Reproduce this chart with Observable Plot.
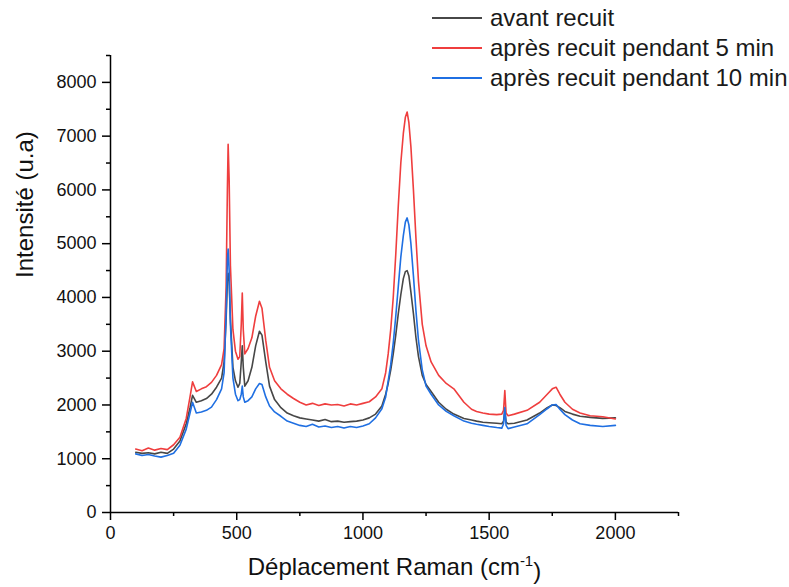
<!DOCTYPE html>
<html>
<head>
<meta charset="utf-8">
<script src="https://cdn.jsdelivr.net/npm/d3@7"></script>
<script src="https://cdn.jsdelivr.net/npm/@observablehq/plot@0.6"></script>
<style>
  html, body { margin: 0; padding: 0; background: #fff; }
  #wrap { position: relative; width: 789px; height: 587px; font-family: "Liberation Sans", Arial, sans-serif; }
  #legend { position: absolute; left: 432px; top: 3px; }
  .row { display: flex; align-items: center; height: 30px; }
  .sw { width: 50px; height: 2px; margin-right: 8px; }
  .lab { font-size: 24px; color: #1a1a1a; line-height: 30px; white-space: nowrap; }
</style>
</head>
<body>
<div id="wrap"><div id="chart"></div><div id="legend"></div></div>
<script>
const seriesNames = ["avant recuit", "après recuit pendant 5 min", "après recuit pendant 10 min"];
const seriesColors = ["#474747", "#ef3e3e", "#1f6fe2"];

const ramanShift = [100,125,150,175,200,225,250,275,300,315,325,340,360,380,400,420,440,450,458,463,466,470,475,485,495,505,512,518,522,526,532,545,560,575,590,600,615,630,650,675,700,725,750,775,800,825,850,875,900,925,950,975,1000,1025,1050,1075,1090,1100,1110,1120,1130,1140,1150,1160,1168,1175,1182,1190,1200,1210,1220,1235,1250,1270,1300,1330,1360,1400,1430,1450,1475,1500,1530,1550,1557,1562,1567,1575,1600,1650,1700,1730,1750,1765,1780,1800,1830,1860,1900,1950,2000];

const avantRecuit = [1120,1100,1110,1090,1120,1100,1180,1330,1650,1950,2180,2050,2080,2120,2200,2330,2500,2800,3600,4300,4450,4300,3600,2700,2450,2330,2400,2800,3100,2700,2350,2450,2700,3100,3370,3300,2800,2350,2100,1950,1850,1800,1760,1740,1720,1700,1730,1690,1700,1680,1690,1700,1720,1760,1830,1980,2200,2400,2650,2950,3300,3700,4050,4350,4480,4500,4400,4100,3700,3250,2900,2550,2380,2250,2050,1920,1830,1750,1720,1700,1680,1670,1660,1650,1700,1900,1680,1650,1660,1720,1850,1950,2000,1990,1950,1880,1830,1790,1770,1750,1760];

const apres5min = [1180,1150,1200,1160,1190,1170,1260,1400,1750,2150,2430,2250,2300,2340,2420,2550,2750,3050,4200,6000,6850,6200,4600,3400,3000,2850,2900,3500,4080,3400,2950,3050,3250,3650,3930,3800,3200,2700,2450,2300,2200,2120,2050,2000,2030,1990,2020,2000,2010,1980,2020,2000,2030,2060,2150,2300,2600,2950,3400,4000,4800,5700,6500,7050,7350,7450,7250,6800,6000,5100,4300,3500,3100,2800,2550,2400,2300,2050,1920,1880,1850,1830,1820,1830,1900,2270,1850,1800,1830,1900,2050,2200,2300,2330,2200,2050,1920,1850,1800,1780,1740];

const apres10min = [1090,1060,1080,1050,1030,1060,1100,1250,1550,1850,2050,1850,1870,1900,1960,2100,2300,2600,3700,4700,4900,4500,3500,2500,2200,2080,2100,2200,2350,2150,2050,2080,2150,2300,2400,2380,2150,1980,1870,1790,1700,1660,1620,1600,1640,1590,1610,1580,1600,1570,1600,1580,1610,1650,1760,1930,2150,2450,2750,3150,3650,4200,4750,5150,5400,5480,5350,5000,4400,3750,3200,2650,2350,2200,2000,1880,1800,1700,1660,1640,1620,1600,1580,1570,1650,1950,1620,1560,1590,1650,1820,1930,2000,2010,1920,1820,1720,1650,1620,1600,1620];

const xMajorTicks = [0, 500, 1000, 1500, 2000];
const xMinorTicks = [250, 750, 1250, 1750, 2250];
const yMajorTicks = [0, 1000, 2000, 3000, 4000, 5000, 6000, 7000, 8000];
const yMinorTicks = [500, 1500, 2500, 3500, 4500, 5500, 6500, 7500, 8500];

const xTitle = "Déplacement Raman (cm-1)";
const yTitle = "Intensité (u.a)";

const allSeries = [avantRecuit, apres5min, apres10min];
const data = [];
allSeries.forEach((vals, si) => {
  vals.forEach((v, i) => data.push({x: ramanShift[i], y: v, s: seriesNames[si]}));
});

const font = "'Liberation Sans', Arial, sans-serif";

const chart = Plot.plot({
  width: 789,
  height: 587,
  marginLeft: 110,
  marginRight: 111,
  marginTop: 55,
  marginBottom: 75,
  style: {fontFamily: font, background: "#fff", color: "#111"},
  x: {domain: [0, 2250]},
  y: {domain: [0, 8500]},
  color: {domain: seriesNames, range: seriesColors},
  marks: [
    Plot.line(data, {x: "x", y: "y", z: "s", stroke: "s", strokeWidth: 1.6}),
    Plot.ruleY([0], {stroke: "#000", strokeWidth: 1.5}),
    Plot.ruleX([0], {stroke: "#000", strokeWidth: 1.5}),
    Plot.axisX({ticks: xMajorTicks, tickSize: 8, tickPadding: 6, tickFormat: "d", label: null, fontSize: 18, strokeWidth: 1.5, stroke: "#000"}),
    Plot.axisX({ticks: xMinorTicks, tickSize: 4, tickFormat: () => "", label: null, strokeWidth: 1.5, stroke: "#000"}),
    Plot.axisY({ticks: yMajorTicks, tickSize: 8, tickPadding: 6, tickFormat: "d", label: null, fontSize: 18, strokeWidth: 1.5, stroke: "#000"}),
    Plot.axisY({ticks: yMinorTicks, tickSize: 4, tickFormat: () => "", label: null, strokeWidth: 1.5, stroke: "#000"}),
    Plot.text([xTitle], {frameAnchor: "bottom", dy: 62, fontSize: 24, fill: "#111", text: d => d}),
    Plot.text([yTitle], {frameAnchor: "left", dx: -85, dy: -6, rotate: -90, fontSize: 24, fill: "#111", text: d => d})
  ]
});

document.getElementById("chart").appendChild(chart);

// superscript on the x title
d3.select(chart).selectAll("text").each(function() {
  if (this.textContent === xTitle) {
    const t = d3.select(this);
    t.text("");
    t.append("tspan").text("Déplacement Raman (cm");
    t.append("tspan").attr("dy", "-0.55em").attr("font-size", "15px").text("-1");
    t.append("tspan").attr("dy", "0.55em").text(")");
  }
});

// legend
const leg = d3.select("#legend");
seriesNames.forEach((n, i) => {
  const r = leg.append("div").attr("class", "row");
  r.append("div").attr("class", "sw").style("background", seriesColors[i]);
  r.append("div").attr("class", "lab").text(n);
});
</script>
</body>
</html>
